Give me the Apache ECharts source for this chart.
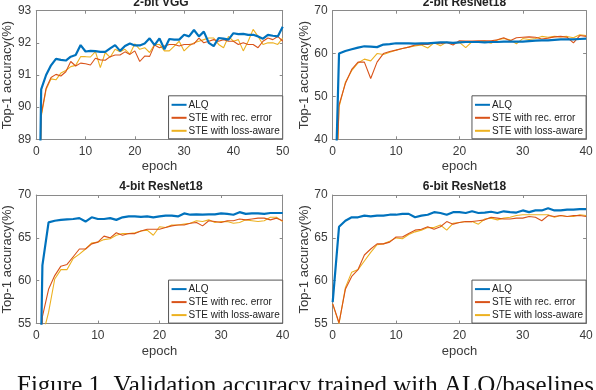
<!DOCTYPE html>
<html>
<head>
<meta charset="utf-8">
<script src="https://cdn.jsdelivr.net/npm/echarts@6/dist/echarts.min.js"></script>
<style>
  html, body { margin: 0; padding: 0; background: #fff; }
  #main { width: 596px; height: 390px; }
</style>
</head>
<body>
<div id="main"></div>
<script>
// accuracy per epoch, index = epoch (epoch 0 sits below the visible range on most panels)
const vggALQ = [80, 90.55, 91.0, 91.3, 91.5, 91.47, 91.45, 91.57, 91.62, 91.93, 91.73, 91.75, 91.74, 91.72, 91.72, 91.83, 91.93, 91.75, 91.9, 91.98, 91.92, 91.92, 91.98, 92.14, 91.93, 92.14, 91.8, 92.12, 92.1, 92.1, 92.25, 92.2, 92.4, 92.2, 92.35, 92.0, 91.9, 92.15, 92.13, 92.1, 92.3, 92.27, 92.28, 92.25, 92.25, 92.2, 92.13, 92.25, 92.22, 92.2, 92.5];
const vggRec = [80, 89.76, 90.59, 90.92, 91.02, 90.97, 91.1, 91.42, 91.28, 91.37, 91.35, 91.31, 91.52, 91.47, 91.46, 91.57, 91.62, 91.62, 91.72, 91.64, 91.75, 91.42, 91.59, 91.58, 91.93, 91.85, 91.9, 91.95, 91.95, 91.9, 91.95, 91.95, 91.97, 92.15, 92.0, 92.05, 92.1, 92.05, 92.1, 92.05, 92.05, 91.95, 92.0, 91.95, 91.95, 91.85, 92.05, 92.15, 92.1, 92.2, 92.05];
const vggLoss = [80, 89.7, 90.55, 90.88, 90.85, 91.06, 91.14, 91.26, 91.3, 91.57, 91.57, 91.56, 91.73, 91.23, 91.7, 91.55, 91.8, 91.72, 91.8, 91.65, 91.97, 91.8, 91.85, 91.7, 91.95, 91.95, 91.75, 91.75, 91.9, 92.05, 91.75, 91.9, 92.0, 92.05, 92.1, 92.15, 92.15, 91.95, 91.85, 92.2, 92.05, 92.1, 91.75, 92.05, 92.42, 92.2, 91.95, 92.0, 92.0, 91.95, 92.15];

const r2ALQ = [5, 60.0, 60.6, 61.0, 61.4, 61.7, 61.6, 61.5, 62.1, 62.2, 62.4, 62.4, 62.4, 62.3, 62.4, 62.4, 62.5, 62.6, 62.6, 62.5, 62.6, 62.7, 62.7, 62.7, 62.6, 62.7, 62.7, 62.8, 62.8, 62.8, 62.8, 62.9, 63.0, 63.1, 63.1, 63.2, 63.3, 63.3, 63.3, 63.4, 63.5];
const r2Rec = [5, 48.0, 53.0, 56.3, 58.0, 58.0, 54.2, 58.0, 60.0, 60.5, 60.8, 61.2, 61.5, 62.0, 62.1, 62.1, 62.5, 62.3, 62.6, 62.0, 63.0, 62.9, 62.9, 63.0, 63.0, 63.0, 63.2, 63.7, 63.0, 63.7, 63.8, 63.9, 63.8, 63.4, 63.6, 63.9, 64.0, 63.8, 62.5, 64.2, 64.0];
const r2Loss = [5, 47.5, 53.3, 56.0, 57.8, 58.7, 58.3, 60.0, 59.8, 60.3, 60.8, 61.2, 61.5, 61.8, 62.0, 61.3, 62.5, 61.8, 62.7, 62.3, 62.6, 61.4, 62.8, 62.8, 62.9, 62.4, 63.2, 63.5, 63.2, 62.3, 63.5, 63.3, 63.5, 64.0, 63.8, 64.0, 63.9, 64.0, 63.7, 64.4, 64.2];

const r4ALQ = [20, 61.8, 66.8, 67.0, 67.1, 67.15, 67.2, 67.3, 66.9, 67.4, 67.2, 67.2, 67.3, 67.1, 67.4, 67.5, 67.5, 67.45, 67.5, 67.4, 67.5, 67.6, 67.6, 67.5, 67.85, 67.7, 67.75, 67.7, 67.75, 67.75, 67.85, 67.8, 67.7, 68.0, 67.8, 67.85, 67.85, 67.8, 67.9, 67.9, 67.9];
const r4Rec = [20, 55.8, 59.0, 60.6, 61.7, 61.9, 62.8, 63.7, 63.7, 64.3, 64.5, 65.2, 65.0, 65.6, 65.3, 65.5, 65.5, 65.8, 66.0, 66.0, 66.0, 66.2, 66.4, 66.5, 66.5, 66.7, 66.8, 66.4, 67.0, 66.9, 66.8, 67.0, 67.0, 67.2, 67.1, 67.2, 67.3, 67.3, 67.1, 67.3, 67.0];
const r4Loss = [20, 53.5, 56.3, 60.2, 61.3, 61.3, 62.6, 63.1, 63.7, 64.4, 64.5, 64.8, 64.9, 65.3, 65.5, 65.5, 65.6, 65.8, 65.9, 65.3, 66.3, 66.2, 66.5, 66.5, 66.6, 66.7, 67.0, 66.9, 67.1, 66.8, 66.9, 66.9, 66.7, 66.8, 67.1, 67.0, 66.9, 67.0, 67.4, 67.4, 66.9];

const r6ALQ = [57.5, 66.3, 67.0, 67.4, 67.4, 67.6, 67.5, 67.6, 67.6, 67.7, 67.7, 67.8, 67.8, 67.4, 67.6, 67.7, 68.0, 67.9, 67.7, 68.0, 68.0, 67.9, 68.1, 67.9, 67.95, 68.05, 67.9, 68.1, 68.0, 67.95, 68.2, 68.0, 68.2, 68.2, 68.45, 68.2, 68.2, 68.3, 68.3, 68.35, 68.35];
const r6Rec = [57.3, 55.1, 59.0, 60.5, 61.3, 63.0, 63.7, 64.3, 64.3, 64.5, 65.1, 65.1, 65.5, 65.9, 66.0, 66.3, 66.0, 66.3, 66.9, 66.6, 66.8, 66.9, 66.9, 67.0, 67.1, 67.4, 67.3, 67.2, 67.2, 67.3, 67.3, 67.5, 67.4, 67.0, 67.6, 67.5, 67.6, 67.5, 67.6, 67.6, 67.5];
const r6Loss = [57.3, 55.0, 59.2, 61.0, 61.3, 62.3, 63.3, 64.2, 64.3, 64.6, 65.0, 64.9, 65.4, 65.7, 65.9, 66.2, 66.2, 66.5, 65.9, 66.7, 66.8, 66.9, 66.9, 66.6, 67.2, 67.3, 67.1, 67.3, 67.4, 67.6, 67.7, 67.7, 67.7, 67.7, 67.7, 67.4, 67.6, 67.5, 67.5, 67.7, 67.6];

const seriesNames = ['ALQ', 'STE with rec. error', 'STE with loss-aware'];
const seriesColors = ['#0072BD', '#D95319', '#EDB120'];
const seriesWidths = [2.2, 1.1, 1.1];

const panelTitles = ['2-bit VGG', '2-bit ResNet18', '4-bit ResNet18', '6-bit ResNet18'];
const panelData = [
  [vggALQ, vggRec, vggLoss],
  [r2ALQ, r2Rec, r2Loss],
  [r4ALQ, r4Rec, r4Loss],
  [r6ALQ, r6Rec, r6Loss]
];
const xMax = [50, 40, 40, 40];
const yMin = [89, 40, 55, 55];
const yMax = [93, 70, 70, 70];
const yStep = [1, 10, 5, 5];

// panel boxes in pixels
const boxes = [
  { left: 29.3, top: 10.7 },
  { left: 332.7, top: 10.7 },
  { left: 29.3, top: 195 },
  { left: 332.7, top: 195 }
];
const W = 253.4, H = 128.6;

const axisCol = '#8a8a8a';
const labelCol = '#3a3a3a';
const font = 'Liberation Sans';

var myChart = echarts.init(document.getElementById('main'), null, { renderer: 'canvas' });

let grid = [], xAxis = [], yAxis = [], series = [], title = [], legend = [];

boxes.forEach((b, i) => {
  grid.push({ left: b.left, top: b.top, width: W, height: H, show: false });

  const xBase = {
    gridIndex: i, type: 'value', min: 0, max: xMax[i], interval: 10,
    axisLine: { show: true, onZero: false, lineStyle: { color: axisCol, width: 1 } },
    axisTick: { show: true, inside: true, length: 3, lineStyle: { color: axisCol } },
    splitLine: { show: false }
  };
  xAxis.push(Object.assign({}, xBase, {
    position: 'bottom',
    name: 'epoch', nameLocation: 'middle', nameGap: 21,
    nameTextStyle: { color: labelCol, fontSize: 13, fontFamily: font },
    axisLabel: { color: labelCol, fontSize: 12, fontFamily: font, margin: 6 }
  }));
  xAxis.push(Object.assign({}, xBase, { position: 'top', axisLabel: { show: false } }));

  const yBase = {
    gridIndex: i, type: 'value', min: yMin[i], max: yMax[i], interval: yStep[i],
    axisLine: { show: true, onZero: false, lineStyle: { color: axisCol, width: 1 } },
    axisTick: { show: true, inside: true, length: 3, lineStyle: { color: axisCol } },
    splitLine: { show: false }
  };
  yAxis.push(Object.assign({}, yBase, {
    position: 'left',
    name: 'Top-1 accuracy(%)', nameLocation: 'middle', nameGap: 16, nameRotate: 90,
    nameTextStyle: { color: labelCol, fontSize: 13, fontFamily: font },
    axisLabel: { color: labelCol, fontSize: 12, fontFamily: font, margin: 5 }
  }));
  yAxis.push(Object.assign({}, yBase, { position: 'right', axisLabel: { show: false } }));

  panelData[i].forEach((vals, k) => {
    series.push({
      name: seriesNames[k], type: 'line',
      xAxisIndex: 2 * i, yAxisIndex: 2 * i,
      data: vals.map((v, e) => [e, v]),
      symbol: 'none', clip: true,
      z: 10 - k,
      lineStyle: { color: seriesColors[k], width: seriesWidths[k] },
      itemStyle: { color: seriesColors[k] }
    });
  });

  title.push({
    text: panelTitles[i],
    left: b.left + W / 2, top: b.top - 19, textAlign: 'center',
    textStyle: { fontSize: 12, fontWeight: 'bold', color: '#222', fontFamily: font }
  });

  legend.push({
    orient: 'vertical',
    right: 596 - (b.left + W), bottom: 390 - (b.top + H) + 0.5,
    data: seriesNames,
    icon: 'rect', itemWidth: 15, itemHeight: 2, itemGap: 3,
    padding: [4, 3, 3, 3],
    backgroundColor: '#fff', borderColor: '#555', borderWidth: 1, borderRadius: 0,
    textStyle: { fontSize: 10, color: '#222', fontFamily: font, padding: [0, 0, 0, -3] },
    selectedMode: false
  });
});

myChart.setOption({
  animation: false,
  backgroundColor: '#fff',
  title: title,
  legend: legend,
  grid: grid,
  xAxis: xAxis,
  yAxis: yAxis,
  series: series,
  graphic: [{
    type: 'text', left: 17, top: 374,
    style: {
      text: 'Figure 1. Validation accuracy trained with ALQ/baselines',
      fontFamily: 'Liberation Serif', fontSize: 25, fill: '#111'
    }
  }]
});
</script>
</body>
</html>
